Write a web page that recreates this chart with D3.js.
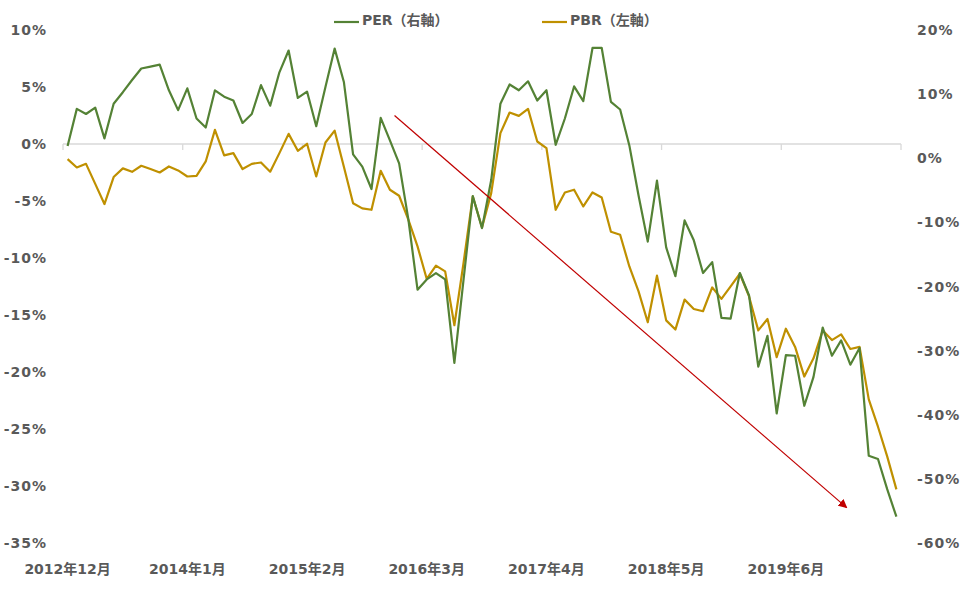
<!DOCTYPE html>
<html>
<head>
<meta charset="utf-8">
<script src="https://cdn.jsdelivr.net/npm/d3@7"></script>
<style>
  body { margin: 0; background: #fff; }
  text { font-family: "DejaVu Sans", "Noto Sans CJK JP", sans-serif; font-weight: bold; fill: #595959; }
</style>
</head>
<body>
<script>
// months Dec 2012 .. Jun 2020
var categories = [];
for (var k = 0; k < 91; k++) {
    var yy = 2012 + Math.floor((11 + k) / 12);
    var mm = (11 + k) % 12 + 1;
    categories.push(yy + "年" + mm + "月");
}
var tickLabels = ["2012年12月", "2014年1月", "2015年2月", "2016年3月", "2017年4月", "2018年5月", "2019年6月"];

// PER, right axis (%)
var perValues = [
    1.9, 7.7, 6.9, 7.9, 3.1, 8.5, 10.3, 12.2, 14.0, 14.3,
    14.6, 10.6, 7.5, 10.9, 6.2, 4.8, 10.6, 9.6, 9.0, 5.5,
    6.9, 11.4, 8.2, 13.4, 16.8, 9.4, 10.4, 5.0, 11.1, 17.1,
    11.9, 0.6, -1.3, -4.8, 6.3, 2.8, -0.8, -9.5, -20.5, -18.9,
    -17.9, -18.9, -31.9, -18.9, -5.9, -10.9, -3.4, 8.5, 11.5, 10.6,
    12.0, 9.0, 10.6, 2.1, 6.2, 11.2, 8.9, 17.2, 17.2, 8.8,
    7.6, 2.0, -5.8, -13.0, -3.5, -13.9, -18.4, -9.7, -12.8, -17.9,
    -16.2, -24.9, -25.0, -17.9, -21.4, -32.5, -27.7, -39.8, -30.7, -30.8,
    -38.6, -34.1, -26.4, -30.8, -28.4, -32.2, -29.6, -46.4, -46.9, -51.6,
    -55.9
];

// PBR, left axis (%)
var pbrValues = [
    -1.33, -2.06, -1.74, -3.5, -5.27, -2.9, -2.14, -2.44, -1.91, -2.2,
    -2.5, -1.97, -2.32, -2.85, -2.79, -1.53, 1.24, -1.0, -0.8, -2.2,
    -1.74, -1.62, -2.43, -0.8, 0.89, -0.6, 0.02, -2.85, 0.13, 1.17,
    -2.0, -5.2, -5.65, -5.77, -2.35, -4.01, -4.54, -6.64, -8.98, -11.84,
    -10.67, -11.17, -15.9, -10.4, -4.6, -7.32, -4.31, 0.95, 2.76, 2.47,
    3.08, 0.22, -0.36, -5.77, -4.25, -4.01, -5.48, -4.25, -4.7, -7.7,
    -7.96, -10.74, -12.93, -15.64, -11.55, -15.47, -16.28, -13.65, -14.47, -14.67,
    -12.58, -13.59, -12.49, -11.38, -13.37, -16.35, -15.35, -18.7, -16.2, -17.8,
    -20.4, -18.8, -16.35, -17.2, -16.7, -17.98, -17.8, -22.4, -24.8, -27.4,
    -30.3
];

var leftTicks = [10, 5, 0, -5, -10, -15, -20, -25, -30, -35];
var rightTicks = [20, 10, 0, -10, -20, -30, -40, -50, -60];

// trend arrow, in category index / left-axis value
var arrowFrom = [35.5, 2.5];
var arrowTo = [84.6, -31.9];

var w = 963;
var h = 609;
var plotLeft = 63, plotRight = 901, plotTop = 30, plotBottom = 543;

var svg = d3.select("body").append("svg")
    .attr("width", w)
    .attr("height", h);

var x = d3.scaleBand().domain(categories).range([plotLeft, plotRight]);
var bw = x.bandwidth();
var xi = d3.scaleLinear()
    .domain([0, categories.length - 1])
    .range([x(categories[0]) + bw / 2, x(categories[categories.length - 1]) + bw / 2]);
var yL = d3.scaleLinear().domain([-35, 10]).range([plotBottom, plotTop]);
var yR = d3.scaleLinear().domain([-60, 20]).range([plotBottom, plotTop]);

// zero line with tick marks every 13 months
svg.append("line")
    .attr("x1", plotLeft).attr("x2", plotRight)
    .attr("y1", yL(0)).attr("y2", yL(0))
    .attr("stroke", "#d9d9d9").attr("stroke-width", 1.3);

var tickPos = d3.range(0, categories.length + 1, 13);
svg.selectAll("line.tick")
    .data(tickPos)
    .enter()
    .append("line")
    .attr("class", "tick")
    .attr("x1", function(d) { return d < categories.length ? x(categories[d]) : plotRight; })
    .attr("x2", function(d) { return d < categories.length ? x(categories[d]) : plotRight; })
    .attr("y1", yL(0))
    .attr("y2", yL(0) + 6)
    .attr("stroke", "#d9d9d9").attr("stroke-width", 1.3);

svg.selectAll("text.xl")
    .data(tickLabels)
    .enter()
    .append("text")
    .attr("class", "xl")
    .attr("x", function(d) { return x(d) + bw / 2; })
    .attr("y", 574)
    .attr("text-anchor", "middle")
    .attr("font-size", 14)
    .text(function(d) { return d; });

svg.selectAll("text.yl")
    .data(leftTicks)
    .enter()
    .append("text")
    .attr("class", "yl")
    .attr("x", 47)
    .attr("y", function(d) { return yL(d) + 5; })
    .attr("text-anchor", "end")
    .attr("font-size", 14)
    .attr("letter-spacing", 1)
    .text(function(d) { return d + "%"; });

svg.selectAll("text.yr")
    .data(rightTicks)
    .enter()
    .append("text")
    .attr("class", "yr")
    .attr("x", 917)
    .attr("y", function(d) { return yR(d) + 5; })
    .attr("text-anchor", "start")
    .attr("font-size", 14)
    .attr("letter-spacing", 1)
    .text(function(d) { return d + "%"; });

// series
var pbrLine = d3.line()
    .x(function(d, i) { return xi(i); })
    .y(function(d) { return yL(d); });
var perLine = d3.line()
    .x(function(d, i) { return xi(i); })
    .y(function(d) { return yR(d); });

svg.append("path")
    .attr("d", pbrLine(pbrValues))
    .attr("fill", "none")
    .attr("stroke", "#BF9000")
    .attr("stroke-width", 2.2)
    .attr("stroke-linejoin", "round");

svg.append("path")
    .attr("d", perLine(perValues))
    .attr("fill", "none")
    .attr("stroke", "#548235")
    .attr("stroke-width", 2.2)
    .attr("stroke-linejoin", "round");

// arrow
svg.append("defs").append("marker")
    .attr("id", "head")
    .attr("viewBox", "0 0 10 10")
    .attr("refX", 9).attr("refY", 5)
    .attr("markerWidth", 9).attr("markerHeight", 9)
    .attr("markerUnits", "userSpaceOnUse")
    .attr("orient", "auto")
    .append("path")
    .attr("d", "M0,0L10,5L0,10z")
    .attr("fill", "#C00000");

svg.append("line")
    .attr("x1", xi(arrowFrom[0])).attr("y1", yL(arrowFrom[1]))
    .attr("x2", xi(arrowTo[0])).attr("y2", yL(arrowTo[1]))
    .attr("stroke", "#C00000")
    .attr("stroke-width", 1.2)
    .attr("marker-end", "url(#head)");

// legend
var legend = [
    { name: "PER（右軸）", color: "#548235", x: 334 },
    { name: "PBR（左軸）", color: "#BF9000", x: 542 }
];
var lg = svg.selectAll("g.legend")
    .data(legend)
    .enter()
    .append("g")
    .attr("class", "legend")
    .attr("transform", function(d) { return "translate(" + d.x + ",22)"; });
lg.append("line")
    .attr("x1", 0).attr("x2", 25)
    .attr("y1", 0).attr("y2", 0)
    .attr("stroke", function(d) { return d.color; })
    .attr("stroke-width", 2.2);
lg.append("text")
    .attr("x", 28)
    .attr("y", 3)
    .attr("font-size", 14)
    .text(function(d) { return d.name; });
</script>
</body>
</html>
